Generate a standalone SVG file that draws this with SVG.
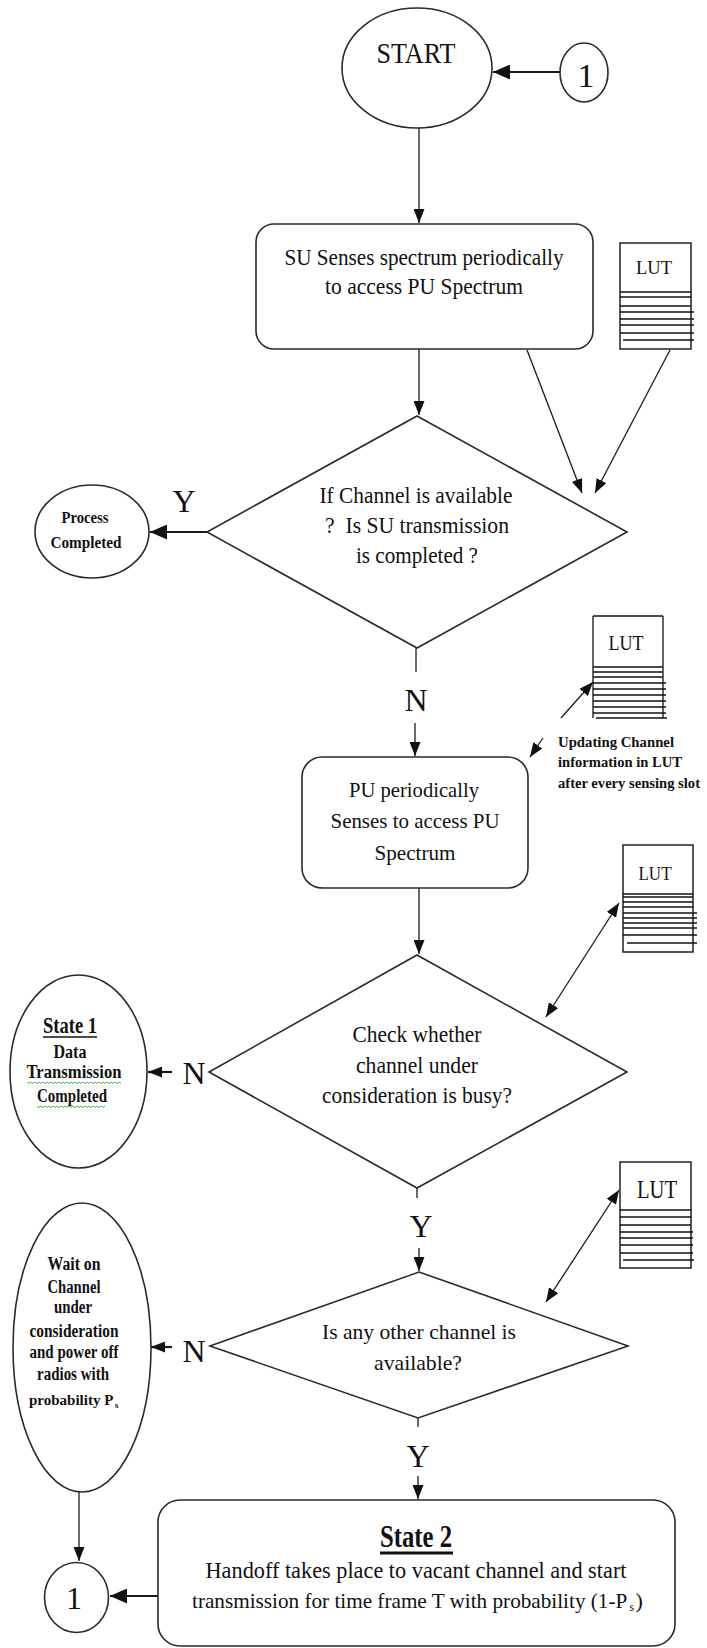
<svg xmlns="http://www.w3.org/2000/svg" width="707" height="1648" viewBox="0 0 707 1648">
  <style>
    .bg { fill: #ffffff; }
    .shape { fill: #ffffff; stroke: #2a2a2a; stroke-width: 1.6; }
    .lut { fill: #ffffff; stroke: #111111; stroke-width: 1.4; }
    .rule { stroke: #111111; stroke-width: 1.3; }
    .t { font-family: "Liberation Serif", "Times New Roman", serif; fill: #111111; text-anchor: middle; }
    .b { font-weight: bold; }
    .ls { text-anchor: start; }
    .flow { fill: none; stroke: #1a1a1a; stroke-width: 1.3; }
    .heavy { fill: none; stroke: #1a1a1a; stroke-width: 2.2; }
    .uline { stroke: #111111; stroke-width: 1.6; }
    .squig { fill: none; stroke: #3aa33a; stroke-width: 0.9; }
  </style>
  <defs>
    <marker id="ah" viewBox="0 0 14 11" refX="14" refY="5.5" markerWidth="14" markerHeight="11" orient="auto-start-reverse" markerUnits="userSpaceOnUse">
      <path d="M0,0 L14,5.5 L0,11 z" fill="#111111"/>
    </marker>
    <marker id="ahb" viewBox="0 0 17 15" refX="17" refY="7.5" markerWidth="17" markerHeight="15" orient="auto-start-reverse" markerUnits="userSpaceOnUse">
      <path d="M0,0 L17,7.5 L0,15 z" fill="#111111"/>
    </marker>
  </defs>

  <rect class="bg" x="0" y="0" width="707" height="1648"/>

  <!-- connectors -->
  <g id="connectors">
    <line class="heavy" x1="560" y1="72" x2="493" y2="72" marker-end="url(#ahb)"/>
    <line class="flow" x1="419" y1="128" x2="419" y2="223" marker-end="url(#ah)"/>
    <line class="flow" x1="419" y1="349" x2="419" y2="415" marker-end="url(#ah)"/>
    <line class="flow" x1="527" y1="350" x2="582" y2="493" marker-end="url(#ah)"/>
    <line class="flow" x1="670" y1="350" x2="595" y2="493" marker-end="url(#ah)"/>
    <line class="heavy" x1="207" y1="532" x2="150" y2="532" marker-end="url(#ahb)"/>
    <line class="flow" x1="416" y1="648" x2="416" y2="672"/>
    <line class="flow" x1="415" y1="723" x2="415" y2="756" marker-end="url(#ah)"/>
    <line class="flow" x1="561" y1="718" x2="593" y2="682" marker-end="url(#ah)"/>
    <line class="flow" x1="543" y1="738" x2="530" y2="757" marker-end="url(#ah)"/>
    <line class="flow" x1="419" y1="888" x2="419" y2="954" marker-end="url(#ah)"/>
    <line class="flow" x1="619" y1="903" x2="546" y2="1017" marker-start="url(#ah)" marker-end="url(#ah)"/>
    <line class="heavy" x1="172" y1="1072" x2="148" y2="1072" marker-end="url(#ah)"/>
    <line class="flow" x1="417" y1="1188" x2="417" y2="1198"/>
    <line class="flow" x1="419" y1="1248" x2="419" y2="1271" marker-end="url(#ah)"/>
    <line class="flow" x1="619" y1="1190" x2="546" y2="1302" marker-start="url(#ah)" marker-end="url(#ah)"/>
    <line class="heavy" x1="172" y1="1347" x2="151" y2="1347" marker-end="url(#ah)"/>
    <line class="flow" x1="418" y1="1418" x2="418" y2="1427"/>
    <line class="flow" x1="418" y1="1476" x2="418" y2="1499" marker-end="url(#ah)"/>
    <line class="flow" x1="79" y1="1492" x2="79" y2="1561" marker-end="url(#ah)"/>
    <line class="heavy" x1="158" y1="1596" x2="110" y2="1596" marker-end="url(#ahb)"/>
  </g>

  <!-- branch labels -->
  <g id="labels">
    <text class="t" x="184" y="512" font-size="32">Y</text>
    <text class="t" x="416" y="711" font-size="32">N</text>
    <text class="t" x="194" y="1084" font-size="32">N</text>
    <text class="t" x="421" y="1237" font-size="32">Y</text>
    <text class="t" x="194" y="1362" font-size="32">N</text>
    <text class="t" x="418" y="1467" font-size="32">Y</text>
  </g>

  <g id="start">
    <ellipse class="shape" cx="417" cy="68" rx="75" ry="60"/>
    <text class="t" x="416" y="63" font-size="30" textLength="79" lengthAdjust="spacingAndGlyphs">START</text>
  </g>

  <g id="connector-top">
    <ellipse class="shape" cx="584" cy="72.5" rx="24" ry="29.5"/>
    <text class="t" x="586" y="87" font-size="34">1</text>
  </g>

  <g id="su-sense">
    <rect class="shape" x="256" y="224" width="337" height="125" rx="18" ry="18"/>
    <text class="t" x="424" y="265" font-size="23" textLength="279" lengthAdjust="spacingAndGlyphs">SU Senses spectrum periodically</text>
    <text class="t" x="424" y="294" font-size="23" textLength="198" lengthAdjust="spacingAndGlyphs">to access PU Spectrum</text>
  </g>

  <g id="lut-1">
    <rect class="lut" x="620" y="243" width="71" height="106"/>
    <text class="t" x="654" y="274" font-size="18" textLength="36" lengthAdjust="spacingAndGlyphs">LUT</text>
    <line class="rule" x1="620" y1="292" x2="691" y2="292"/>
    <line class="rule" x1="620" y1="297" x2="691" y2="297"/>
    <line class="rule" x1="620" y1="306" x2="691" y2="306"/>
    <line class="rule" x1="620" y1="312" x2="694" y2="312"/>
    <line class="rule" x1="620" y1="319" x2="694" y2="319"/>
    <line class="rule" x1="620" y1="325" x2="694" y2="325"/>
    <line class="rule" x1="620" y1="333" x2="694" y2="333"/>
    <line class="rule" x1="623" y1="340" x2="694" y2="340"/>
  </g>

  <g id="decision-available">
    <polygon class="shape" points="417,416 627,532 417,648 207,532"/>
    <text class="t" x="416" y="503" font-size="23" textLength="193" lengthAdjust="spacingAndGlyphs">If Channel is available</text>
    <text class="t" x="417" y="533" font-size="23" textLength="184" lengthAdjust="spacingAndGlyphs" xml:space="preserve">?  Is SU transmission</text>
    <text class="t" x="417" y="563" font-size="23" textLength="122" lengthAdjust="spacingAndGlyphs">is completed ?</text>
  </g>

  <g id="process-completed">
    <ellipse class="shape" cx="92" cy="531.5" rx="57" ry="46.5"/>
    <text class="t b" x="85" y="523" font-size="17" textLength="47" lengthAdjust="spacingAndGlyphs">Process</text>
    <text class="t b" x="86" y="548" font-size="17" textLength="71" lengthAdjust="spacingAndGlyphs">Completed</text>
  </g>

  <g id="pu-sense">
    <rect class="shape" x="302" y="757" width="226" height="131" rx="20" ry="20"/>
    <text class="t" x="414" y="797" font-size="22" textLength="130" lengthAdjust="spacingAndGlyphs">PU periodically</text>
    <text class="t" x="415" y="828" font-size="22" textLength="169" lengthAdjust="spacingAndGlyphs">Senses to access PU</text>
    <text class="t" x="415" y="860" font-size="22" textLength="81" lengthAdjust="spacingAndGlyphs">Spectrum</text>
  </g>

  <g id="lut-2">
    <line class="rule" x1="593" y1="616" x2="663" y2="616"/>
    <line class="rule" x1="593" y1="616" x2="593" y2="718"/>
    <line class="rule" x1="663" y1="616" x2="663" y2="718"/>
    <text class="t" x="626" y="650" font-size="21" textLength="35" lengthAdjust="spacingAndGlyphs">LUT</text>
    <line class="rule" x1="593" y1="667" x2="663" y2="667"/>
    <line class="rule" x1="593" y1="672" x2="663" y2="672"/>
    <line class="rule" x1="593" y1="677" x2="663" y2="677"/>
    <line class="rule" x1="593" y1="683" x2="666" y2="683"/>
    <line class="rule" x1="593" y1="689" x2="666" y2="689"/>
    <line class="rule" x1="593" y1="695" x2="666" y2="695"/>
    <line class="rule" x1="593" y1="701" x2="666" y2="701"/>
    <line class="rule" x1="593" y1="707" x2="666" y2="707"/>
    <line class="rule" x1="593" y1="713" x2="666" y2="713"/>
    <line class="rule" x1="596" y1="718" x2="667" y2="718"/>
  </g>

  <g id="lut-update-note">
    <text class="t b ls" x="558" y="747" font-size="15" textLength="116" lengthAdjust="spacingAndGlyphs">Updating Channel</text>
    <text class="t b ls" x="558" y="767" font-size="15" textLength="124" lengthAdjust="spacingAndGlyphs">information in LUT</text>
    <text class="t b ls" x="558" y="788" font-size="14.5" textLength="142" lengthAdjust="spacingAndGlyphs">after every sensing slot</text>
  </g>

  <g id="lut-3">
    <rect class="lut" x="623" y="845" width="70" height="107"/>
    <text class="t" x="655" y="880" font-size="19" textLength="33" lengthAdjust="spacingAndGlyphs">LUT</text>
    <line class="rule" x1="623" y1="894" x2="693" y2="894"/>
    <line class="rule" x1="623" y1="897" x2="693" y2="897"/>
    <line class="rule" x1="623" y1="902" x2="693" y2="902"/>
    <line class="rule" x1="623" y1="907" x2="693" y2="907"/>
    <line class="rule" x1="623" y1="913" x2="697" y2="913"/>
    <line class="rule" x1="623" y1="918" x2="697" y2="918"/>
    <line class="rule" x1="623" y1="923" x2="697" y2="923"/>
    <line class="rule" x1="623" y1="928" x2="697" y2="928"/>
    <line class="rule" x1="623" y1="935" x2="697" y2="935"/>
    <line class="rule" x1="627" y1="943" x2="697" y2="943"/>
  </g>

  <g id="decision-busy">
    <polygon class="shape" points="417,955 627,1072 417,1188 209,1072"/>
    <text class="t" x="417" y="1042" font-size="23" textLength="129" lengthAdjust="spacingAndGlyphs">Check whether</text>
    <text class="t" x="417" y="1073" font-size="23" textLength="122" lengthAdjust="spacingAndGlyphs">channel under</text>
    <text class="t" x="417" y="1103" font-size="23" textLength="190" lengthAdjust="spacingAndGlyphs">consideration is busy?</text>
  </g>

  <g id="state-1">
    <ellipse class="shape" cx="78.5" cy="1071.5" rx="68.5" ry="96.5"/>
    <text class="t b" x="70" y="1033" font-size="24" textLength="54" lengthAdjust="spacingAndGlyphs">State 1</text>
    <line class="uline" x1="43" y1="1037" x2="97" y2="1037"/>
    <text class="t b" x="70" y="1058" font-size="18" textLength="33" lengthAdjust="spacingAndGlyphs">Data</text>
    <text class="t b" x="74" y="1078" font-size="18" textLength="95" lengthAdjust="spacingAndGlyphs">Transmission</text>
    <path class="squig" d="M27,1082 l2,1.5 l2,-1.5 l2,1.5 l2,-1.5 l2,1.5 l2,-1.5 l2,1.5 l2,-1.5 l2,1.5 l2,-1.5 l2,1.5 l2,-1.5 l2,1.5 l2,-1.5 l2,1.5 l2,-1.5 l2,1.5 l2,-1.5 l2,1.5 l2,-1.5 l2,1.5 l2,-1.5 l2,1.5 l2,-1.5 l2,1.5 l2,-1.5 l2,1.5 l2,-1.5 l2,1.5 l2,-1.5 l2,1.5 l2,-1.5 l2,1.5 l2,-1.5 l2,1.5 l2,-1.5 l2,1.5 l2,-1.5 l2,1.5 l2,-1.5 l2,1.5 l2,-1.5 l2,1.5 l2,-1.5 l2,1.5 l2,-1.5 l2,1.5"/>
    <text class="t b" x="72" y="1102" font-size="18" textLength="70" lengthAdjust="spacingAndGlyphs">Completed</text>
    <path class="squig" d="M37,1106 l2,1.5 l2,-1.5 l2,1.5 l2,-1.5 l2,1.5 l2,-1.5 l2,1.5 l2,-1.5 l2,1.5 l2,-1.5 l2,1.5 l2,-1.5 l2,1.5 l2,-1.5 l2,1.5 l2,-1.5 l2,1.5 l2,-1.5 l2,1.5 l2,-1.5 l2,1.5 l2,-1.5 l2,1.5 l2,-1.5 l2,1.5 l2,-1.5 l2,1.5 l2,-1.5 l2,1.5 l2,-1.5 l2,1.5 l2,-1.5 l2,1.5 l2,-1.5"/>
  </g>

  <g id="lut-4">
    <rect class="lut" x="620" y="1162" width="71" height="106"/>
    <text class="t" x="657" y="1198" font-size="26" textLength="40" lengthAdjust="spacingAndGlyphs">LUT</text>
    <line class="rule" x1="620" y1="1210" x2="691" y2="1210"/>
    <line class="rule" x1="620" y1="1217" x2="691" y2="1217"/>
    <line class="rule" x1="620" y1="1225" x2="691" y2="1225"/>
    <line class="rule" x1="620" y1="1232" x2="693" y2="1232"/>
    <line class="rule" x1="620" y1="1238" x2="693" y2="1238"/>
    <line class="rule" x1="620" y1="1245" x2="693" y2="1245"/>
    <line class="rule" x1="620" y1="1253" x2="693" y2="1253"/>
    <line class="rule" x1="623" y1="1260" x2="694" y2="1260"/>
  </g>

  <g id="decision-other">
    <polygon class="shape" points="419,1272 628,1346 418,1418 210,1346"/>
    <text class="t" x="419" y="1339" font-size="22" textLength="194" lengthAdjust="spacingAndGlyphs">Is any other channel is</text>
    <text class="t" x="418" y="1370" font-size="22" textLength="88" lengthAdjust="spacingAndGlyphs">available?</text>
  </g>

  <g id="wait-state">
    <ellipse class="shape" cx="82" cy="1347.5" rx="69" ry="144.5"/>
    <text class="t b" x="74" y="1270" font-size="18" textLength="53" lengthAdjust="spacingAndGlyphs">Wait on</text>
    <text class="t b" x="74" y="1293" font-size="18" textLength="53" lengthAdjust="spacingAndGlyphs">Channel</text>
    <text class="t b" x="73" y="1313" font-size="18" textLength="38" lengthAdjust="spacingAndGlyphs">under</text>
    <text class="t b" x="74" y="1337" font-size="18" textLength="89" lengthAdjust="spacingAndGlyphs">consideration</text>
    <text class="t b" x="74" y="1358" font-size="18" textLength="89" lengthAdjust="spacingAndGlyphs">and power off</text>
    <text class="t b" x="73" y="1380" font-size="18" textLength="72" lengthAdjust="spacingAndGlyphs">radios with</text>
    <text class="t b ls" x="29" y="1405" font-size="15">probability P</text>
    <text class="t b ls" x="115" y="1408" font-size="9">s</text>
  </g>

  <g id="state-2">
    <rect class="shape" x="158" y="1500" width="517" height="146" rx="22" ry="22"/>
    <text class="t b" x="416" y="1547" font-size="31" textLength="72" lengthAdjust="spacingAndGlyphs">State 2</text>
    <line x1="380" y1="1553" x2="453" y2="1553" stroke="#111111" stroke-width="3"/>
    <text class="t" x="416" y="1578" font-size="23" textLength="421" lengthAdjust="spacingAndGlyphs">Handoff takes place to vacant channel and start</text>
    <text class="t ls" x="192" y="1608" font-size="21.2">transmission for time frame T with probability (1-P</text>
    <text class="t ls" x="629.5" y="1611" font-size="12">s</text>
    <text class="t ls" x="635.5" y="1608" font-size="22">)</text>
  </g>

  <g id="connector-bottom">
    <ellipse class="shape" cx="76.5" cy="1597.5" rx="32" ry="35"/>
    <text class="t" x="74" y="1609" font-size="32">1</text>
  </g>
</svg>
